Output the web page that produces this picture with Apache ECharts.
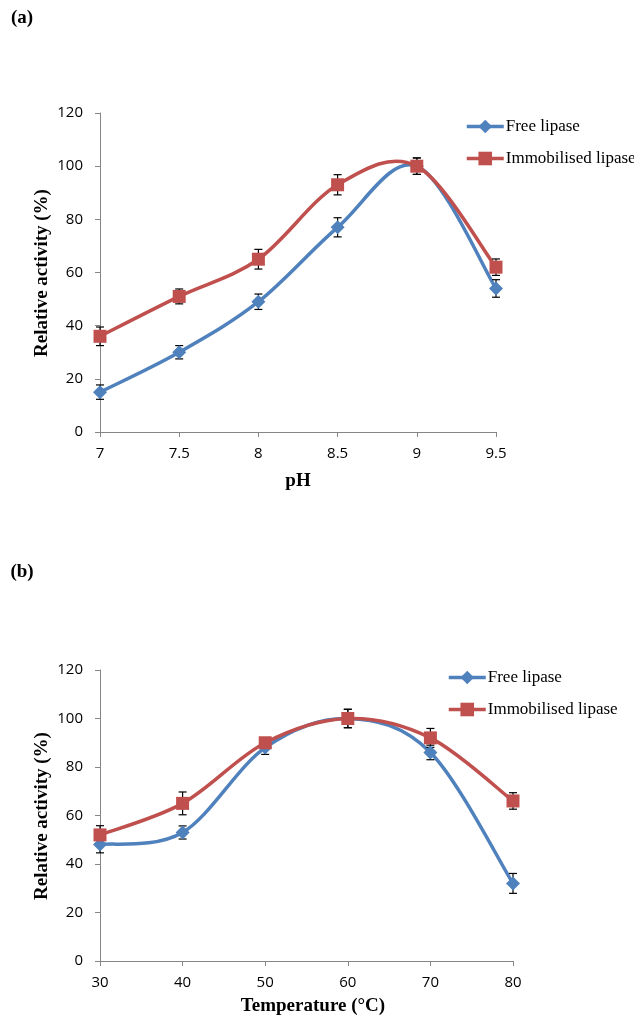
<!DOCTYPE html>
<html>
<head>
<meta charset="utf-8">
<script src="https://cdn.jsdelivr.net/npm/echarts@6/dist/echarts.min.js"></script>
<style>
html,body{margin:0;padding:0;background:#fff;}
#chart{width:634px;height:1023px;}
</style>
</head>
<body>
<div id="chart"></div>
<script>
// Panel (a): pH
const phValues = [7, 7.5, 8, 8.5, 9, 9.5];
const phFree = [15, 30, 49, 77, 100, 54];
const phFreeErr = [2.7, 2.5, 2.9, 3.6, 3.1, 3.3];
const phImmob = [36, 51, 65, 93, 100, 62];
const phImmobErr = [3.5, 2.8, 3.7, 3.8, 3.1, 3.1];

// Panel (b): temperature
const tempValues = [30, 40, 50, 60, 70, 80];
const tempFree = [48, 53, 88, 100, 86, 32];
const tempFreeErr = [3.4, 2.7, 2.8, 3.8, 3.0, 4.1];
const tempImmob = [52, 65, 90, 100, 92, 66];
const tempImmobErr = [3.8, 4.7, 2.0, 3.8, 3.9, 3.4];

const seriesNames = ['Free lipase', 'Immobilised lipase'];
const yTicks = {min: 0, max: 120, interval: 20};

const BLUE = '#4F81BD', RED = '#C0504D', AXIS = '#868686';
const SERIF = '"Liberation Serif", "Times New Roman", serif';
const SANS = '"Open Sans", "Noto Sans", sans-serif';
const LW = 3.5;

function pairs(xs, ys) { return xs.map((x, i) => [x, ys[i]]); }

// markers (and legend entry); its own line is hidden, the smooth curve is drawn by curveSeries
function markerSeries(name, xs, ys, gi, color, symbol, size) {
  return {
    name: name, type: 'line', xAxisIndex: gi, yAxisIndex: gi,
    data: pairs(xs, ys), z: 4,
    symbol: symbol, symbolSize: size, showSymbol: true,
    lineStyle: {color: color, width: LW, opacity: 0},
    itemStyle: {color: color, borderWidth: 0},
    emphasis: {disabled: true}
  };
}

// Excel-style smoothed line (Catmull-Rom Bezier) through the data points, placed by the axes
function curveSeries(xs, ys, gi, color, z) {
  return {
    type: 'custom', xAxisIndex: gi, yAxisIndex: gi, z: z, silent: true,
    data: pairs(xs, ys), encode: {x: 0, y: 1},
    renderItem: function (params, api) {
      const n = params.dataInsideLength, i = params.dataIndexInside;
      if (i >= n - 1) return null;
      const P = function (k) {
        k = Math.max(0, Math.min(n - 1, k));
        return api.coord([api.value(0, k), api.value(1, k)]);
      };
      const p0 = P(i - 1), p1 = P(i), p2 = P(i + 1), p3 = P(i + 2);
      const t = 1 / 6;
      return {
        type: 'bezierCurve',
        shape: {
          x1: p1[0], y1: p1[1], x2: p2[0], y2: p2[1],
          cpx1: p1[0] + (p2[0] - p0[0]) * t, cpy1: p1[1] + (p2[1] - p0[1]) * t,
          cpx2: p2[0] - (p3[0] - p1[0]) * t, cpy2: p2[1] - (p3[1] - p1[1]) * t
        },
        style: {stroke: color, lineWidth: LW, fill: null, lineCap: 'round'}
      };
    }
  };
}

function errSeries(xs, ys, errs, gi) {
  return {
    type: 'custom', xAxisIndex: gi, yAxisIndex: gi, z: 3, silent: true,
    data: xs.map((x, i) => [x, ys[i] - errs[i], ys[i] + errs[i]]),
    encode: {x: 0, y: [1, 2]},
    renderItem: function (params, api) {
      const lo = api.coord([api.value(0), api.value(1)]);
      const hi = api.coord([api.value(0), api.value(2)]);
      const w = 4;
      const st = {stroke: '#000', lineWidth: 1.2};
      return {type: 'group', children: [
        {type: 'line', shape: {x1: lo[0], y1: lo[1], x2: hi[0], y2: hi[1]}, style: st},
        {type: 'line', shape: {x1: lo[0] - w, y1: lo[1], x2: lo[0] + w, y2: lo[1]}, style: st},
        {type: 'line', shape: {x1: hi[0] - w, y1: hi[1], x2: hi[0] + w, y2: hi[1]}, style: st}
      ]};
    }
  };
}

function xAxis(gi, min, max, interval) {
  return {
    type: 'value', gridIndex: gi, min: min, max: max, interval: interval,
    axisLine: {show: true, lineStyle: {color: AXIS, width: 1}},
    axisTick: {show: true, length: 5, inside: false, lineStyle: {color: AXIS}},
    axisLabel: {color: '#000', fontFamily: SANS, fontSize: 15, margin: 14},
    splitLine: {show: false}
  };
}
function yAxis(gi) {
  return {
    type: 'value', gridIndex: gi, min: yTicks.min, max: yTicks.max, interval: yTicks.interval,
    axisLine: {show: true, lineStyle: {color: AXIS, width: 1}},
    axisTick: {show: true, length: 5, inside: false, lineStyle: {color: AXIS}},
    axisLabel: {color: '#000', fontFamily: SANS, fontSize: 15, margin: 17},
    splitLine: {show: false}
  };
}
function legend(left, top) {
  return {
    data: seriesNames, orient: 'vertical', left: left, top: top,
    itemWidth: 37, itemHeight: 17, itemGap: 15, selectedMode: false,
    lineStyle: {opacity: 1, width: LW},
    textStyle: {fontFamily: SERIF, fontSize: 17, color: '#000', padding: [0, 0, 0, -3]}
  };
}
function txt(text, x, y, size, rot) {
  return {
    type: 'text', x: x, y: y, rotation: rot || 0,
    style: {text: text, fontFamily: SERIF, fontWeight: 'bold', fontSize: size, fill: '#000',
            textAlign: 'center', textVerticalAlign: 'middle'}
  };
}

const option = {
  animation: false,
  backgroundColor: '#fff',
  grid: [
    {left: 100, top: 113, width: 396, height: 319},
    {left: 100, top: 670, width: 413, height: 291}
  ],
  xAxis: [xAxis(0, 7, 9.5, 0.5), xAxis(1, 30, 80, 10)],
  yAxis: [yAxis(0), yAxis(1)],
  legend: [legend(460, 113), legend(442, 664)],
  series: [
    curveSeries(phValues, phFree, 0, BLUE, 2),
    curveSeries(phValues, phImmob, 0, RED, 2.1),
    errSeries(phValues, phFree, phFreeErr, 0),
    errSeries(phValues, phImmob, phImmobErr, 0),
    markerSeries(seriesNames[0], phValues, phFree, 0, BLUE, 'diamond', 14),
    markerSeries(seriesNames[1], phValues, phImmob, 0, RED, 'rect', 13),
    curveSeries(tempValues, tempFree, 1, BLUE, 2),
    curveSeries(tempValues, tempImmob, 1, RED, 2.1),
    errSeries(tempValues, tempFree, tempFreeErr, 1),
    errSeries(tempValues, tempImmob, tempImmobErr, 1),
    markerSeries(seriesNames[0], tempValues, tempFree, 1, BLUE, 'diamond', 14),
    markerSeries(seriesNames[1], tempValues, tempImmob, 1, RED, 'rect', 13)
  ],
  graphic: [
    txt('(a)', 22, 18, 19),
    txt('(b)', 22, 572, 19),
    txt('Relative activity (%)', 42, 273, 19, Math.PI / 2),
    txt('pH', 298, 481, 19),
    txt('Relative activity (%)', 42, 816, 19, Math.PI / 2),
    txt('Temperature (°C)', 313, 1006, 19)
  ]
};

const chart = echarts.init(document.getElementById('chart'), null, {renderer: 'canvas'});
chart.setOption(option);
</script>
</body>
</html>
